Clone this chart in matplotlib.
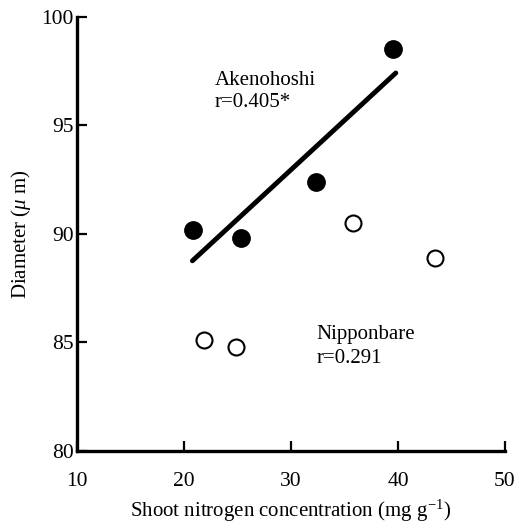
import numpy as np
import matplotlib
matplotlib.use("Agg")
import matplotlib.pyplot as plt

plt.rcParams['font.family'] = ['Liberation Serif', 'DejaVu Serif']
plt.rcParams['mathtext.fontset'] = 'custom'
plt.rcParams['mathtext.rm'] = 'Liberation Serif'
plt.rcParams['mathtext.it'] = 'Liberation Serif:italic'

# Akenohoshi (filled) and Nipponbare (open)
ake_n = [20.9, 25.3, 32.3, 39.5]
ake_d = [90.2, 89.8, 92.4, 98.5]
nip_n = [21.9, 24.9, 35.8, 43.5]
nip_d = [85.1, 84.8, 90.5, 88.9]

x_ticks = [10, 20, 30, 40, 50]
y_ticks = [80, 85, 90, 95, 100]

fig = plt.figure(figsize=(5.19, 5.23), dpi=100)
ax = fig.add_axes([0.148, 0.1377, 0.825, 0.83])

ax.plot(nip_n, nip_d, 'o', ms=11.5, mfc='white', mec='black', mew=1.5, zorder=3)
ax.plot(ake_n, ake_d, 'o', ms=12.5, mfc='black', mec='black', zorder=3)

# regression line for Akenohoshi
slope, icpt = np.polyfit(ake_n, ake_d, 1)
xl = np.array([20.8, 39.8])
ax.plot(xl, slope * xl + icpt, '-', color='black', lw=3.5, solid_capstyle='round')

ax.text(22.9, 96.85, 'Akenohoshi', fontsize=15)
ax.text(22.9, 95.85, 'r=0.405*', fontsize=15)
ax.text(32.4, 85.15, 'Nipponbare', fontsize=15)
ax.text(32.4, 84.05, 'r=0.291', fontsize=15)

ax.set_xlim(10, 50)
ax.set_ylim(80, 100)
ax.set_xticks(x_ticks)
ax.set_yticks(y_ticks)
ax.spines['top'].set_visible(False)
ax.spines['right'].set_visible(False)
for s in ('left', 'bottom'):
    ax.spines[s].set_linewidth(2.4)
ax.tick_params(direction='in', length=7, width=1.6, labelsize=15.5)
ax.tick_params(axis='x', pad=15)
ax.tick_params(axis='y', pad=2)

ax.set_xlabel('Shoot nitrogen concentration (mg g$^{-1}$)', fontsize=15, labelpad=5)
ax.set_ylabel('Diameter ($\\mu$ m)', fontsize=15, labelpad=6)

fig.savefig('out.png', dpi=100)
